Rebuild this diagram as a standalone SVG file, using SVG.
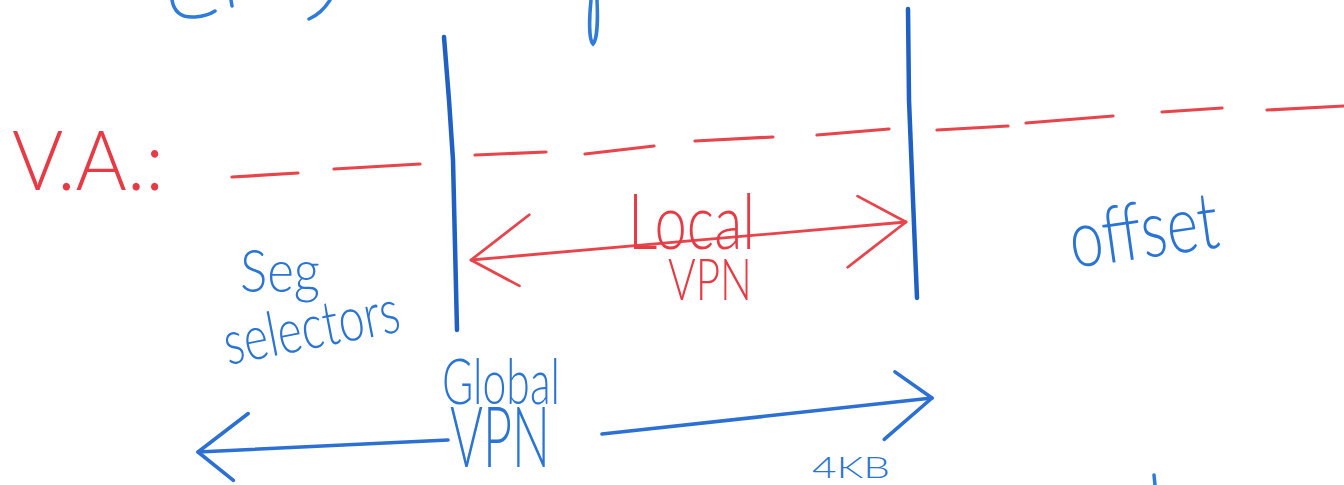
<svg xmlns="http://www.w3.org/2000/svg" width="1344" height="485" viewBox="0 0 1344 485">
<style>
.bg{fill:#ffffff}
.red{fill:#e63a44}
.blue{fill:#2a74d4}
.t{font-family:Lato,"Liberation Sans",sans-serif;font-weight:300}
.dash{stroke:#e8444c;stroke-width:3.2;stroke-linecap:round;fill:none}
.rarrow{stroke:#e8444c;stroke-width:2.8;stroke-linecap:round;fill:none}
.barrow{stroke:#2b70d2;stroke-width:3.6;stroke-linecap:round;fill:none}
.wall{stroke:#1f60c4;stroke-width:4.5;stroke-linecap:round;stroke-linejoin:round;fill:none}
.frag{stroke:#2f7bd8;stroke-width:3.5;stroke-linecap:round;fill:none}
</style>
<defs>
<marker id="headR" viewBox="-80 -50 90 100" markerUnits="userSpaceOnUse" markerWidth="90" markerHeight="100" refX="0" refY="0" orient="auto-start-reverse">
<path d="M-46,-30 L0,0 L-62,40" fill="none" stroke="#e8444c" stroke-width="2.8" stroke-linecap="round" stroke-linejoin="round"/>
</marker>
<marker id="headB" viewBox="-80 -50 90 100" markerUnits="userSpaceOnUse" markerWidth="90" markerHeight="100" refX="0" refY="0" orient="auto-start-reverse">
<path d="M-34,-30 L0,0 L-52,36" fill="none" stroke="#2b70d2" stroke-width="3.6" stroke-linecap="round" stroke-linejoin="round"/>
</marker>
</defs>
<rect class="bg" x="0" y="0" width="1344" height="485"/>

<g id="fragments">
<path class="frag" d="M172,0 C174,12 182,18 195,17 C205,16 212,13 215,11"/>
<path class="frag" d="M231,0 L232,6"/>
<path class="frag" d="M330,0 C325,8 318,15 309,19"/>
<path class="frag" d="M591,0 C589,20 589,40 593,44 C597,40 598,20 597,0"/>
<path class="frag" d="M1154,475 L1155,485"/>
</g>

<g id="connectors">
<g id="va-line">
<line class="dash" x1="232" y1="177" x2="298" y2="173"/>
<line class="dash" x1="334" y1="169" x2="420" y2="164"/>
<line class="dash" x1="475" y1="155" x2="546" y2="152"/>
<line class="dash" x1="585" y1="154" x2="654" y2="146"/>
<line class="dash" x1="695" y1="141" x2="773" y2="137"/>
<line class="dash" x1="817" y1="135" x2="889" y2="129"/>
<line class="dash" x1="937" y1="130" x2="1008" y2="126"/>
<line class="dash" x1="1026" y1="123" x2="1113" y2="116"/>
<line class="dash" x1="1162" y1="112" x2="1222" y2="108"/>
<line class="dash" x1="1267" y1="110" x2="1344" y2="106"/>
</g>
<path class="wall" d="M444,37 L449,100 L453,160 L457,330"/>
<path class="wall" d="M908,9 L909,100 L913,200 L917,298"/>
<path class="rarrow" d="M471,260 L906,222" marker-start="url(#headR)" marker-end="url(#headR)"/>
<path class="barrow" d="M448,440 L198,452" marker-end="url(#headB)"/>
<path class="barrow" d="M602,434 L932,398" marker-end="url(#headB)"/>
</g>

<g id="va-label">
<text class="t red" x="12" y="190" font-size="82" textLength="152" lengthAdjust="spacingAndGlyphs">V.A.:</text>
</g>
<g id="local-vpn">
<text class="t red"><tspan x="628" y="249" font-size="76" textLength="127" lengthAdjust="spacingAndGlyphs">Local</tspan><tspan x="668" y="300" font-size="58" textLength="84" lengthAdjust="spacingAndGlyphs">VPN</tspan></text>
</g>
<g id="seg-selectors">
<text class="t blue" x="240" y="292" font-size="60" textLength="80" lengthAdjust="spacingAndGlyphs">Seg</text>
<text class="t blue" x="228" y="365" font-size="62" textLength="178" lengthAdjust="spacingAndGlyphs" transform="rotate(-11 228 365)">selectors</text>
</g>
<g id="offset">
<text class="t blue" x="1073" y="268" font-size="80" textLength="150" lengthAdjust="spacingAndGlyphs" transform="rotate(-8 1073 268)">offset</text>
</g>
<g id="global-vpn">
<text class="t blue"><tspan x="442" y="404" font-size="64" textLength="118" lengthAdjust="spacingAndGlyphs">Global</tspan><tspan x="450" y="467" font-size="84" textLength="100" lengthAdjust="spacingAndGlyphs">VPN</tspan></text>
</g>
<g id="size-label">
<text class="t blue" x="812" y="478" font-size="30" textLength="78" lengthAdjust="spacingAndGlyphs">4KB</text>
</g>
</svg>
